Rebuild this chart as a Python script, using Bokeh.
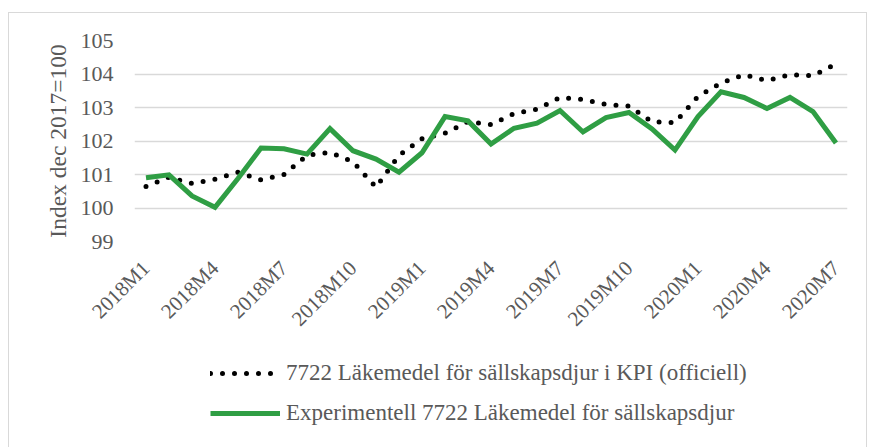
import math
from bokeh.plotting import figure
from bokeh.layouts import column
from bokeh.models import FixedTicker, Legend, LegendItem, ColumnDataSource
from bokeh.embed import file_html
from bokeh.resources import INLINE

months = ["2018M1", "2018M2", "2018M3", "2018M4", "2018M5", "2018M6", "2018M7", "2018M8",
          "2018M9", "2018M10", "2018M11", "2018M12", "2019M1", "2019M2", "2019M3", "2019M4",
          "2019M5", "2019M6", "2019M7", "2019M8", "2019M9", "2019M10", "2019M11", "2019M12",
          "2020M1", "2020M2", "2020M3", "2020M4", "2020M5", "2020M6", "2020M7"]
official = [100.64, 100.92, 100.73, 100.86, 101.07, 100.84, 101.00, 101.57, 101.66, 101.38,
            100.62, 101.57, 102.07, 102.23, 102.58, 102.49, 102.82, 102.95, 103.30, 103.24,
            103.09, 103.04, 102.57, 102.55, 103.33, 103.73, 103.98, 103.80, 103.98, 103.95,
            104.30]
experimental = [100.90, 100.99, 100.36, 100.02, 100.88, 101.79, 101.77, 101.61, 102.37, 101.71,
                101.46, 101.07, 101.65, 102.73, 102.60, 101.91, 102.38, 102.53, 102.91, 102.27,
                102.70, 102.85, 102.36, 101.73, 102.73, 103.47, 103.30, 102.97, 103.30, 102.88,
                101.94]
y_ticks = [99, 100, 101, 102, 103, 104, 105]
label_every = 3
series_names = ["7722 Läkemedel för sällskapsdjur i KPI (officiell)",
                "Experimentell 7722 Läkemedel för sällskapsdjur"]

FONT = "Liberation Serif"
TXT = "#595959"
GREEN = "#2f9e44"

idx = list(range(len(months)))
src = ColumnDataSource(dict(x=idx, off=official, exp=experimental))

OFF_STYLE = dict(line_color="black", line_width=5, line_dash="0 12", line_cap="round")
EXP_STYLE = dict(line_color=GREEN, line_width=5, line_join="miter")

p = figure(frame_width=713, frame_height=201, output_backend="svg", toolbar_location=None,
           x_range=(-0.5, len(months) - 0.5), y_range=(99, 105),
           min_border_left=125, min_border_right=19, min_border_top=27, min_border_bottom=100)
p.outline_line_color = None
p.background_fill_color = "white"
p.border_fill_color = "white"

p.line("x", "off", source=src, **OFF_STYLE)
p.line("x", "exp", source=src, **EXP_STYLE)

# axes
p.yaxis.ticker = FixedTicker(ticks=y_ticks)
p.yaxis.axis_line_color = None
p.yaxis.major_tick_line_color = None
p.yaxis.minor_tick_line_color = None
p.yaxis.major_label_text_font = FONT
p.yaxis.major_label_text_font_size = "22px"
p.yaxis.major_label_text_color = TXT
p.yaxis.major_label_standoff = 15
p.yaxis.axis_label = "Index dec 2017=100"
p.yaxis.axis_label_text_font = FONT
p.yaxis.axis_label_text_font_size = "23.5px"
p.yaxis.axis_label_text_font_style = "normal"
p.yaxis.axis_label_text_color = TXT
p.yaxis.axis_label_standoff = 7

xt = idx[::label_every]
p.xaxis.ticker = FixedTicker(ticks=xt)
p.xaxis.major_label_overrides = {i: months[i] for i in xt}
p.xaxis.major_label_orientation = math.pi / 4
p.xaxis.axis_line_color = None
p.xaxis.major_tick_line_color = None
p.xaxis.minor_tick_line_color = None
p.xaxis.major_label_text_font = FONT
p.xaxis.major_label_text_font_size = "21px"
p.xaxis.major_label_text_color = TXT
p.xaxis.major_label_standoff = 17

p.xgrid.grid_line_color = None
p.ygrid.ticker = FixedTicker(ticks=y_ticks)
p.ygrid.grid_line_color = "#d9d9d9"
p.ygrid.grid_line_width = 1.5

# legend strip (separate figure so the legend can sit freely below the chart)
lg = figure(frame_width=857, frame_height=105, output_backend="svg", toolbar_location=None,
            x_range=(1000, 1001), y_range=(1000, 1001),
            min_border_left=0, min_border_right=0, min_border_top=0, min_border_bottom=0,
            x_axis_type=None, y_axis_type=None)
lg.outline_line_color = None
lg.grid.visible = False
lg.border_fill_color = "white"
r_off = lg.line("x", "off", source=src, **OFF_STYLE)
r_exp = lg.line("x", "exp", source=src, **EXP_STYLE)

legend = Legend(items=[
    LegendItem(label=series_names[0], renderers=[r_off]),
    LegendItem(label=series_names[1], renderers=[r_exp]),
], location=(201, 21), orientation="vertical")
legend.label_text_font = FONT
legend.label_text_font_size = "23px"
legend.label_text_color = TXT
legend.glyph_width = 70
legend.glyph_height = 24
legend.label_standoff = 6
legend.spacing = 14
legend.border_line_color = None
legend.background_fill_alpha = 0
legend.margin = 0
legend.padding = 0
lg.add_layout(legend, "center")

layout = column(p, lg, spacing=0)
layout.styles = {"border": "1px solid #d9d9d9", "border-bottom": "none",
                 "margin-left": "8px", "margin-top": "12px"}

open("out.html", "w").write(file_html(layout, INLINE))
